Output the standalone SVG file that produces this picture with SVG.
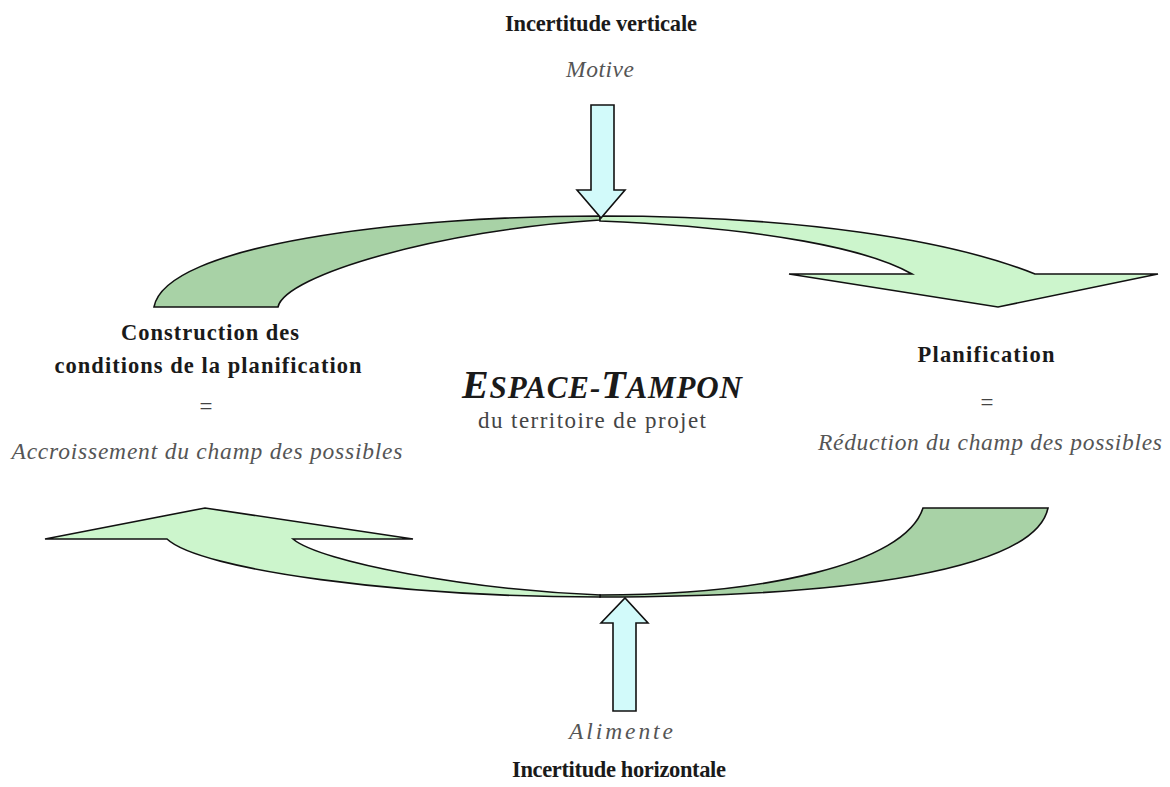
<svg xmlns="http://www.w3.org/2000/svg" width="1170" height="787" viewBox="0 0 1170 787">
<style>
.dark{fill:#a8d2a6;stroke:#111;stroke-width:1.6;stroke-linejoin:miter}
.light{fill:#ccf5cc;stroke:#111;stroke-width:1.6;stroke-linejoin:miter}
.blk{fill:#d2fafa;stroke:#111;stroke-width:1.6}
text{font-family:"Liberation Serif","Times New Roman",serif;text-anchor:middle}
.b{font-weight:bold;font-size:22.5px;fill:#1a1a1a}
.i{font-style:italic;font-size:23.5px;fill:#555}
.r{font-size:23px;fill:#444}
</style>
<rect width="1170" height="787" fill="#fff"/>
<g id="connectors">
  <g id="top-curved-arrow">
    <path class="dark" d="M154,307 C165,245 400,216 600,216 L600,220 C440,230 285,275 278,307 Z"/>
    <path class="light" d="M600,216 C800,216 950,240 1035,274 L1158,274 L998,307 L789,274 L912,274 C870,250 770,228 600,221 Z"/>
  </g>
  <g id="bottom-curved-arrow">
    <path class="dark" d="M600,597 C850,597 1035,570 1048,508 L923,508 C905,565 760,595 600,595 Z"/>
    <path class="light" d="M600,597 C400,597 200,570 167,539 L45,539 L205,508 L413,539 L293,539 C320,562 470,590 600,595 Z"/>
  </g>
  <path id="arrow-down" class="blk" d="M591,105 L614,105 L614,190 L625,190 L601,218 L577,190 L591,190 Z"/>
  <path id="arrow-up" class="blk" d="M613,711 L636,711 L636,623 L648,623 L625,598 L601,623 L613,623 Z"/>
</g>
<g id="node-vertical">
  <text class="b" x="601" y="31" textLength="192" lengthAdjust="spacing">Incertitude verticale</text>
  <text class="i" x="600" y="77" textLength="68" lengthAdjust="spacing">Motive</text>
</g>
<g id="node-construction">
  <text class="b" x="210" y="340" textLength="178" lengthAdjust="spacing">Construction des</text>
  <text class="b" x="208" y="373" textLength="307" lengthAdjust="spacing">conditions de la planification</text>
  <text class="r" x="206" y="414">=</text>
  <text class="i" x="207" y="459" textLength="391" lengthAdjust="spacing">Accroissement du champ des possibles</text>
</g>
<g id="node-center">
  <text x="602" y="398" style="font-style:italic;font-weight:bold;fill:#1a1a1a" textLength="280" lengthAdjust="spacing"><tspan style="font-size:40px">E</tspan><tspan style="font-size:31px">SPACE-</tspan><tspan style="font-size:40px">T</tspan><tspan style="font-size:31px">AMPON</tspan></text>
  <text class="r" x="592" y="428" textLength="228" lengthAdjust="spacing">du territoire de projet</text>
</g>
<g id="node-planification">
  <text class="b" x="986" y="362" textLength="137" lengthAdjust="spacing">Planification</text>
  <text class="r" x="987" y="410">=</text>
  <text class="i" x="990" y="450" textLength="344" lengthAdjust="spacing">Réduction du champ des possibles</text>
</g>
<g id="node-horizontal">
  <text class="i" x="621" y="739" textLength="104" lengthAdjust="spacing">Alimente</text>
  <text class="b" x="619" y="777" textLength="214" lengthAdjust="spacing">Incertitude horizontale</text>
</g>
</svg>
